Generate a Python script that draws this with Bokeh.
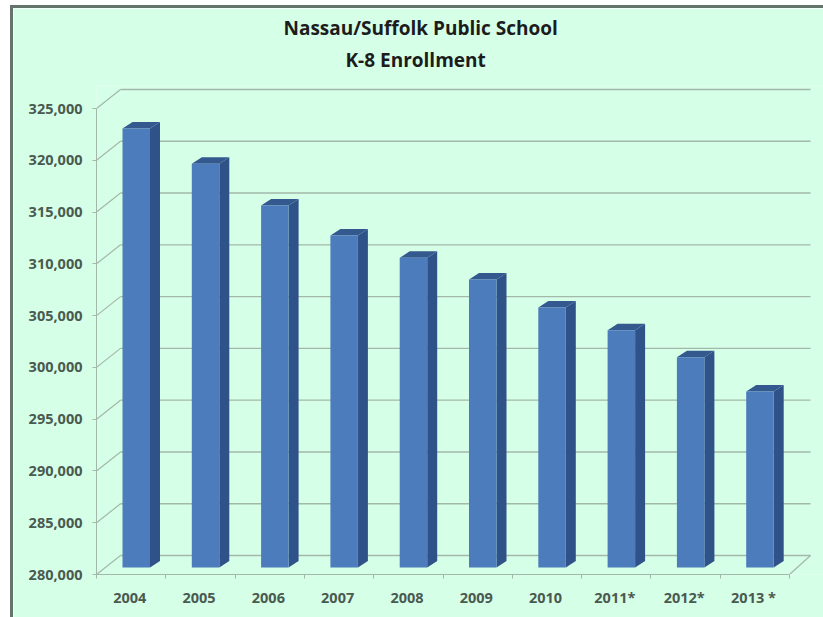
from bokeh.plotting import figure
from bokeh.models import Range1d, FixedTicker, NumeralTickFormatter, Title
from bokeh.embed import file_html
from bokeh.resources import INLINE

years = ["2004", "2005", "2006", "2007", "2008", "2009", "2010", "2011*", "2012*", "2013 *"]
enrollment = [322400, 319000, 314950, 312050, 309900, 307800, 305100, 302900, 300300, 297000]
y_ticks = [280000, 285000, 290000, 295000, 300000, 305000, 310000, 315000, 320000, 325000]
title_lines = ["Nassau/Suffolk Public School", "K-8 Enrollment"]

BG = "#d6ffe8"
LINE = "#a2b8a8"
TEXT = "#4a5a50"
PX_X = 69.3                 # pixels per category
PX_Y = 466 / 45000          # pixels per enrolled pupil
WALL_DX, WALL_DY = 24 / PX_X, 19 / PX_Y
BAR_L, BAR_W = 26 / PX_X, 27.5 / PX_X
SIDE_DX, SIDE_DY = 10 / PX_X, 6.5 / PX_Y
BASE_DY = 7 / PX_Y
n = len(years)

p = figure(width=810, height=609, frame_width=727, frame_height=489,
           x_range=Range1d(0, 727 / PX_X),
           y_range=Range1d(280000, 280000 + 489 / PX_Y),
           output_backend="svg", toolbar_location=None,
           min_border_left=83, min_border_right=0, min_border_top=77, min_border_bottom=43,
           background_fill_color=BG, border_fill_color=BG, outline_line_color=None,
           styles={"border-left": "3px solid #66756c", "border-top": "3px solid #66756c",
                   "margin-left": "10px", "margin-top": "5px"})
p.grid.visible = False

# back wall gridlines and their diagonal links to the axis
p.segment([0] * len(y_ticks), y_ticks, [WALL_DX] * len(y_ticks), [v + WALL_DY for v in y_ticks],
          line_color=LINE, line_width=1.2)
p.segment([WALL_DX] * len(y_ticks), [v + WALL_DY for v in y_ticks],
          [714 / PX_X] * len(y_ticks), [v + WALL_DY for v in y_ticks],
          line_color=LINE, line_width=1.4)
p.segment([n], [y_ticks[0]], [714 / PX_X], [y_ticks[0] + WALL_DY], line_color=LINE, line_width=1.2)

# 3-D bars: front, side, top faces
lefts = [i + BAR_L for i in range(n)]
rights = [x + BAR_W for x in lefts]
tops = [v + BASE_DY for v in enrollment]
base = y_ticks[0] + BASE_DY
p.patches([[r, r + SIDE_DX, r + SIDE_DX, r] for r in rights],
          [[base, base + SIDE_DY, t + SIDE_DY, t] for t in tops],
          fill_color="#2f5288", line_color=None)
p.patches([[l, l + SIDE_DX, r + SIDE_DX, r] for l, r in zip(lefts, rights)],
          [[t, t + SIDE_DY, t + SIDE_DY, t] for t in tops],
          fill_color="#33598f", line_color=None)
p.quad(left=lefts, right=rights, bottom=base, top=tops, fill_color="#4c7cbc", line_color=None)

# axes
ax = p.yaxis[0]
ax.ticker = FixedTicker(ticks=y_ticks)
ax.formatter = NumeralTickFormatter(format="0,0")
ax.bounds = (y_ticks[0], y_ticks[-1])
ax.axis_line_color = LINE
ax.major_tick_line_color = LINE
ax.major_tick_out = 4
ax.major_tick_in = 0
ax.minor_tick_line_color = None
ax.major_label_standoff = 10
ax.major_label_text_font = "Open Sans"
ax.major_label_text_font_style = "bold"
ax.major_label_text_font_size = "14.5px"
ax.major_label_text_color = TEXT

label_pos = [i + 0.48 for i in range(n)]
bx = p.xaxis[0]
bx.ticker = FixedTicker(ticks=label_pos, minor_ticks=list(range(n + 1)))
bx.major_label_overrides = {x: y for x, y in zip(label_pos, years)}
bx.bounds = (0, n)
bx.axis_line_color = LINE
bx.major_tick_line_color = None
bx.major_tick_out = 0
bx.major_tick_in = 0
bx.minor_tick_line_color = LINE
bx.minor_tick_out = 4
bx.minor_tick_in = 0
bx.major_label_standoff = 9
bx.major_label_text_font = "Open Sans"
bx.major_label_text_font_style = "bold"
bx.major_label_text_font_size = "14.5px"
bx.major_label_text_color = TEXT

# two-line title, stacked outwards; a small blank title lifts it off the frame
p.add_layout(Title(text=" ", text_font_size="8px", standoff=0), "above")
p.add_layout(Title(text=title_lines[1], align="left", offset=249, text_font="Open Sans",
                   text_font_size="19px", text_font_style="bold", text_color="#1c1c1c",
                   standoff=4), "above")
p.add_layout(Title(text=title_lines[0], align="left", offset=187, text_font="Open Sans",
                   text_font_size="19px", text_font_style="bold", text_color="#1c1c1c",
                   standoff=4), "above")

open("out.html", "w").write(file_html(p, INLINE))
